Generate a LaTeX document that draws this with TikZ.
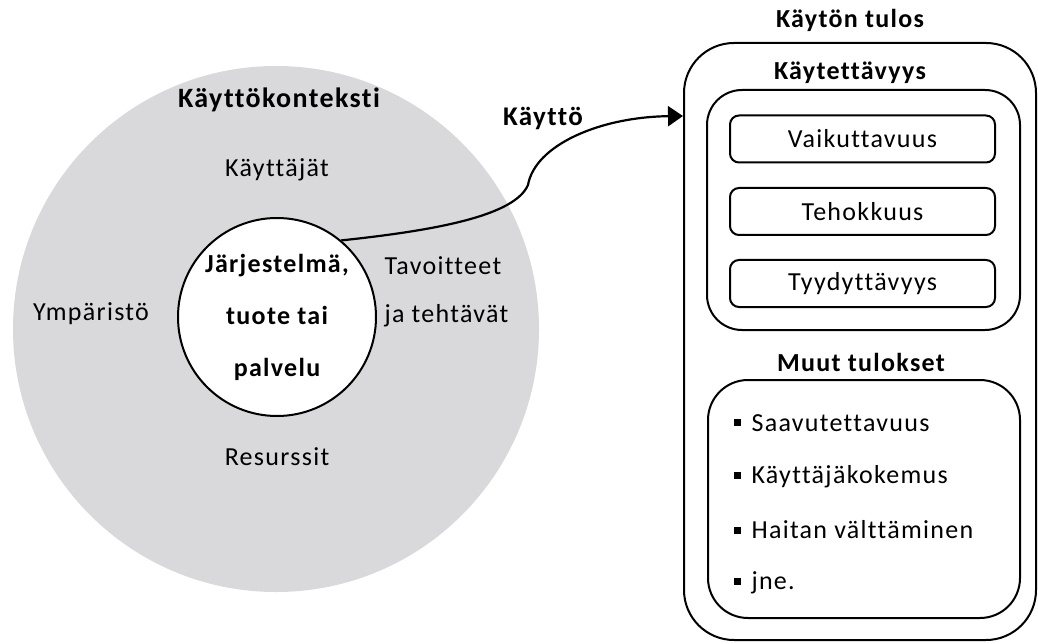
\documentclass[tikz,border=0pt]{standalone}
\usepackage{fontspec}
\setmainfont{Carlito}[LetterSpace=5, Ligatures=NoCommon]
\usepackage{tikz}
\usetikzlibrary{arrows.meta}
\definecolor{ctxgray}{RGB}{217,216,218}
\newcommand{\sqbul}{\rule[0.2em]{7pt}{7pt}\hspace{11pt}}

\begin{document}
\begin{tikzpicture}[x=1pt,y=-1pt,
  txt/.style={font=\fontsize{26}{30}\selectfont},
  hd/.style={font=\fontsize{26}{30}\selectfont\bfseries},
  resbox/.style={draw, line width=2pt, rounded corners=9pt, minimum width=265pt, minimum height=47pt, txt}]
\useasboundingbox (0,0) rectangle (1038,644);
% kayttokonteksti
\node[circle, fill=ctxgray, minimum size=526pt, inner sep=0pt] (ctx) at (276,329) {};
\node[circle, draw, fill=white, line width=2pt, minimum size=198pt, inner sep=0pt, align=center,
  font=\fontsize{26}{52}\selectfont\bfseries] (sys) at (277,317) {Järjestelmä,\\tuote tai\\palvelu};
\node[font=\fontsize{28}{32}\selectfont\bfseries] (ctxlbl) at (279,100) {Käyttökonteksti};
\node[txt] (users) at (277,170) {Käyttäjät};
\node[txt] (env) at (91,314) {Ympäristö};
\node[txt, anchor=west, align=left, font=\fontsize{26}{48}\selectfont] (goals) at (381,292) {Tavoitteet\\ja tehtävät};
\node[txt] (res) at (277,457) {Resurssit};
% kayton tulos
\node[hd] (outlbl) at (850,20) {Käytön tulos};
\node[draw, line width=2pt, rounded corners=50pt, minimum width=352pt, minimum height=597pt] (tulos) at (860,341.5) {};
\node[hd] (usablbl) at (850,73) {Käytettävyys};
\node[draw, line width=2pt, rounded corners=35pt, minimum width=313pt, minimum height=240pt] (usab) at (863.5,210) {};
\node[resbox] (eff) at (862.5,139) {Vaikuttavuus};
\node[resbox] (effic) at (862.5,211.5) {Tehokkuus};
\node[resbox] (sat) at (862.5,283.5) {Tyydyttävyys};
\node[hd] (othlbl) at (861,362) {Muut tulokset};
\node[draw, line width=2pt, rounded corners=40pt, minimum width=312pt, minimum height=238pt] (other) at (864,499) {};
\node[txt, anchor=west] (o1) at (730,423) {\sqbul Saavutettavuus};
\node[txt, anchor=west] (o2) at (730,477) {\sqbul Käyttäjäkokemus};
\node[txt, anchor=west] (o3) at (730,530) {\sqbul Haitan välttäminen};
\node[txt, anchor=west] (o4) at (730,583) {\sqbul jne.};
% kaytto
\coordinate (arr) at (683,116);
\draw[line width=2.2pt, -{Triangle[length=15pt,width=20pt]}] (sys.50) .. controls (440,230) and (515,215) .. (528,185)
  .. controls (535,145) and (600,117) .. (arr);
\node[font=\fontsize{27}{30}\selectfont\bfseries] (use) at (543,118) {Käyttö};
\end{tikzpicture}
\end{document}
